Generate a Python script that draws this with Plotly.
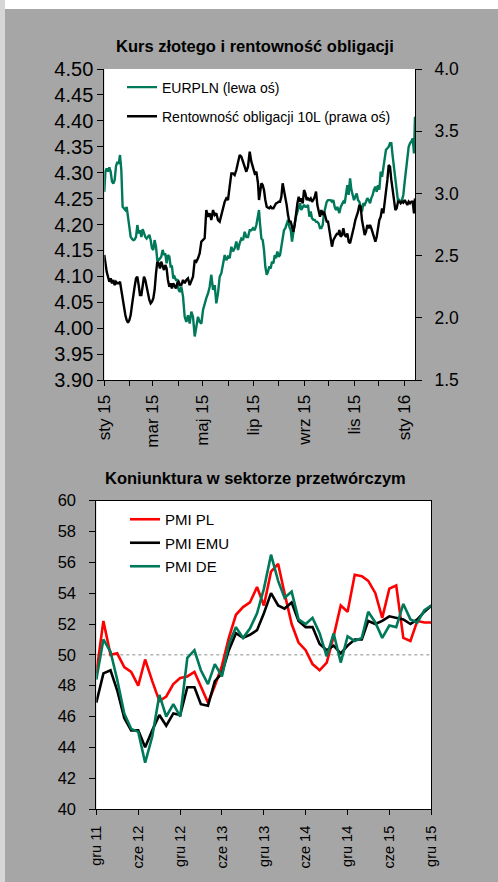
import pandas as pd
import plotly.graph_objects as go

W, H = 498, 882
FONT = "Liberation Sans, Arial, sans-serif"
GREEN = "#00785a"

# ---------------- Chart 1 data (days since 2015-01-01) ----------------
day_offsets = [
    0.0, 1.3, 2.9, 4.5, 6.1, 7.7, 9.4, 11.0, 12.6, 14.2, 15.9, 17.5, 19.1, 20.7, 22.3, 24.0,
    25.6, 27.2, 28.8, 30.5, 32.1, 33.7, 35.3, 36.9, 38.6, 40.2, 41.8, 43.4, 45.1, 46.7, 48.3,
    49.9, 51.5, 53.2, 54.8, 56.4, 58.0, 59.6, 61.2, 62.9, 64.5, 66.1, 67.7, 69.3, 71.0, 72.6,
    74.2, 75.8, 77.4, 79.1, 80.7, 82.3, 83.9, 85.5, 87.2, 88.8, 90.4, 92.0, 93.7,
    95.8, 97.8, 99.8, 101.8, 103.9, 105.9, 107.9, 110.0, 112.0, 114.0, 116.0, 118.1, 120.1,
    122.1, 124.1, 126.2, 128.2, 130.2, 132.3, 134.3, 136.3, 138.3, 140.4, 142.4, 144.4, 146.5,
    148.5, 150.5, 152.5, 154.6, 156.6, 158.6, 160.6, 162.7, 164.7, 166.7, 168.8, 170.8, 172.8,
    174.8, 176.9, 178.9, 180.9, 183.0, 185.0, 187.0, 188.2,
    189.4, 191.1, 192.7, 194.3, 195.9, 197.6, 199.2, 200.8, 202.4, 204.0, 205.7, 207.3, 208.9,
    210.5, 212.2, 213.8, 215.4, 217.0, 218.6, 220.3, 221.9, 223.5, 225.1, 226.8, 228.4, 230.0,
    231.6, 233.2, 234.9, 236.5, 238.1, 239.7, 241.4, 243.0, 244.6, 246.2, 247.8, 249.5, 251.1,
    252.7, 254.3, 256.0, 257.6, 259.2, 260.8, 262.4, 264.1, 265.7, 267.3, 268.9, 270.6, 272.2,
    273.8, 275.4, 277.0, 278.7, 280.3, 281.9, 283.5,
    284.3, 286.0, 287.6, 289.2, 290.8, 292.5, 294.1, 295.7, 297.3, 299.0, 300.6, 302.2, 303.8,
    305.4, 307.1, 308.7, 310.3, 311.9, 313.5, 315.2, 316.8, 318.4, 320.0, 321.7, 323.3, 324.9,
    326.5, 328.1, 329.8, 331.4, 333.0, 334.6, 336.3, 337.9, 339.5, 341.1, 342.7, 344.4, 346.0,
    347.6, 349.2, 350.9, 352.5, 354.1, 355.7, 357.4, 359.0, 360.6, 362.2, 363.8, 365.5, 367.1,
    368.7, 370.3, 372.0, 373.6, 375.2, 376.8, 378.0,
]

eurpln = [
    4.263, 4.302, 4.308, 4.302, 4.310, 4.302, 4.283, 4.279, 4.286, 4.312, 4.321, 4.317, 4.334, 4.305, 4.234, 4.231,
    4.228, 4.234, 4.215, 4.193, 4.176, 4.172, 4.170, 4.171, 4.176, 4.199, 4.183, 4.189, 4.176, 4.191, 4.183,
    4.176, 4.173, 4.176, 4.180, 4.170, 4.154, 4.151, 4.170, 4.157, 4.131, 4.131, 4.135, 4.138, 4.151, 4.141,
    4.144, 4.125, 4.141, 4.138, 4.119, 4.119, 4.096, 4.099, 4.093, 4.093, 4.074, 4.070, 4.080,
    4.061, 4.022, 4.012, 4.025, 4.009, 4.032, 4.022, 3.984, 4.003, 4.022, 4.012, 4.009, 4.035,
    4.048, 4.058, 4.067, 4.080, 4.103, 4.074, 4.083, 4.048, 4.067, 4.099, 4.106, 4.125, 4.141,
    4.131, 4.138, 4.135, 4.157, 4.148, 4.154, 4.167, 4.151, 4.164, 4.173, 4.170, 4.186, 4.176,
    4.176, 4.189, 4.189, 4.193, 4.189, 4.199, 4.222, 4.228,
    4.202, 4.173, 4.170, 4.151, 4.119, 4.103, 4.109, 4.119, 4.115, 4.128, 4.125, 4.141, 4.135,
    4.148, 4.138, 4.141, 4.157, 4.170, 4.189, 4.193, 4.202, 4.209, 4.196, 4.189, 4.167, 4.189,
    4.202, 4.215, 4.225, 4.231, 4.241, 4.228, 4.234, 4.238, 4.234, 4.234, 4.238, 4.215, 4.225,
    4.212, 4.209, 4.209, 4.205, 4.205, 4.202, 4.193, 4.193, 4.199, 4.222, 4.234, 4.244, 4.247,
    4.247, 4.247, 4.244, 4.247, 4.234, 4.228, 4.234,
    4.228, 4.222, 4.234, 4.238, 4.244, 4.241, 4.257, 4.276, 4.257, 4.289, 4.267, 4.254, 4.247,
    4.254, 4.260, 4.247, 4.244, 4.234, 4.225, 4.241, 4.238, 4.244, 4.251, 4.247, 4.241, 4.251,
    4.257, 4.267, 4.273, 4.263, 4.276, 4.267, 4.302, 4.292, 4.308, 4.331, 4.344, 4.347, 4.350,
    4.357, 4.357, 4.331, 4.308, 4.289, 4.267, 4.244, 4.247, 4.244, 4.247, 4.257, 4.283, 4.308,
    4.331, 4.350, 4.357, 4.360, 4.366, 4.337, 4.408,
]

yield10 = [
    2.505, 2.424, 2.371, 2.330, 2.290, 2.317, 2.277, 2.304, 2.263, 2.290, 2.277, 2.277, 2.290, 2.223, 2.156, 2.076,
    2.022, 1.982, 1.961, 1.982, 2.022, 2.103, 2.196, 2.250, 2.317, 2.330, 2.263, 2.183, 2.183, 2.277, 2.330,
    2.304, 2.250, 2.196, 2.143, 2.116, 2.129, 2.156, 2.223, 2.357, 2.451, 2.438, 2.397, 2.451, 2.424, 2.384,
    2.424, 2.397, 2.304, 2.250, 2.277, 2.237, 2.277, 2.250, 2.237, 2.277, 2.290, 2.263, 2.263,
    2.304, 2.277, 2.304, 2.317, 2.263, 2.290, 2.330, 2.464, 2.451, 2.478, 2.518, 2.612, 2.625,
    2.639, 2.866, 2.813, 2.840, 2.786, 2.866, 2.826, 2.840, 2.786, 2.773, 2.826, 2.880, 2.933,
    2.960, 2.947, 3.054, 3.161, 3.161, 3.148, 3.188, 3.241, 3.308, 3.295, 3.255, 3.228, 3.174,
    3.215, 3.335, 3.255, 3.215, 3.161, 3.174, 3.081, 2.947,
    3.014, 3.081, 3.067, 3.027, 2.947, 2.893, 2.885, 2.880, 2.893, 2.880, 2.880, 2.906, 2.920,
    2.925, 2.933, 2.933, 2.973, 3.081, 3.027, 2.987, 2.906, 2.826, 2.773, 2.773, 2.732, 2.692,
    2.746, 2.840, 2.920, 2.973, 2.933, 2.960, 2.920, 3.027, 3.000, 2.947, 2.960, 2.947, 2.960,
    2.933, 2.947, 2.973, 3.014, 2.906, 2.853, 2.813, 2.866, 2.826, 2.853, 2.813, 2.773, 2.773,
    2.692, 2.625, 2.572, 2.625, 2.652, 2.665, 2.679,
    2.666, 2.706, 2.652, 2.666, 2.719, 2.666, 2.652, 2.679, 2.612, 2.599, 2.639, 2.679, 2.733,
    2.786, 2.813, 2.853, 2.907, 2.893, 2.786, 2.719, 2.666, 2.692, 2.746, 2.719, 2.746, 2.719,
    2.679, 2.639, 2.612, 2.652, 2.719, 2.786, 2.813, 2.880, 2.840, 2.920, 3.000, 3.108, 3.228,
    3.215, 3.108, 3.027, 2.934, 2.866, 2.880, 2.934, 2.934, 2.920, 2.934, 2.926, 2.947, 2.920,
    2.907, 2.934, 2.920, 2.934, 2.934, 2.840, 2.960,
]

x1_tickvals = ["2015-01-01", "2015-03-01", "2015-05-01", "2015-07-01", "2015-09-01", "2015-11-01", "2016-01-01"]
x1_ticktext = ["sty 15", "mar 15", "maj 15", "lip 15", "wrz 15", "lis 15", "sty 16"]
x1_range = ["2015-01-01", "2016-01-14"]

# ---------------- Chart 2 data (monthly, gru 11 .. gru 15) ----------------
pmi_months = pd.date_range("2011-12-01", periods=49, freq="MS")
pmi_pl = [48.8, 52.2, 50.0, 50.1, 49.2, 48.9, 48.0, 49.7, 48.3, 47.0, 47.3, 48.1, 48.5, 48.6, 48.9,
          48.0, 46.9, 48.0, 49.3, 51.1, 52.6, 53.1, 53.4, 54.4, 53.2, 55.4, 55.9, 54.0, 52.0, 50.8,
          50.3, 49.4, 49.0, 49.5, 51.2, 53.2, 52.8, 55.2, 55.1, 54.8, 54.0, 52.4, 54.3, 54.5, 51.1,
          50.9, 52.2, 52.1, 52.1]
pmi_emu = [46.9, 48.8, 49.0, 47.7, 45.9, 45.1, 45.1, 44.0, 45.1, 46.1, 45.4, 46.2, 46.1, 47.9, 47.9,
           46.8, 46.7, 48.3, 48.8, 50.3, 51.4, 51.1, 51.3, 51.6, 52.7, 54.0, 53.2, 53.0, 53.4, 52.2,
           51.8, 51.8, 50.7, 50.3, 50.6, 50.1, 50.6, 51.0, 51.0, 52.2, 52.0, 52.2, 52.5, 52.4, 52.3,
           52.0, 52.3, 52.8, 53.2]
pmi_de = [48.4, 51.0, 50.2, 48.4, 46.2, 45.2, 45.0, 43.0, 44.7, 47.4, 46.0, 46.8, 46.0, 49.8, 50.3,
          49.0, 48.1, 49.4, 48.6, 50.7, 51.8, 51.1, 51.7, 52.7, 54.3, 56.5, 54.8, 53.7, 54.1, 52.3,
          52.0, 52.4, 51.4, 49.9, 51.4, 49.5, 51.2, 50.9, 51.1, 52.8, 52.1, 51.1, 51.9, 51.8, 53.3,
          52.3, 52.1, 52.9, 53.2]
x2_tickvals = ["2011-12-01", "2012-06-01", "2012-12-01", "2013-06-01", "2013-12-01",
               "2014-06-01", "2014-12-01", "2015-06-01", "2015-12-01"]
x2_ticktext = ["gru 11", "cze 12", "gru 12", "cze 13", "gru 13", "cze 14", "gru 14", "cze 15", "gru 15"]

dates1 = pd.Timestamp("2015-01-01") + pd.to_timedelta(day_offsets, unit="D")
month_starts = pd.date_range("2015-01-01", "2016-01-01", freq="MS").strftime("%Y-%m-%d").tolist()


def px_x(p):
    return p / W


def px_y(p):
    return 1 - p / H


fig = go.Figure()
fig.add_trace(go.Scatter(x=dates1, y=eurpln, name="EURPLN (lewa oś)", mode="lines",
                         line=dict(color=GREEN, width=2.4), xaxis="x", yaxis="y",
                         legend="legend", legendgroup="g1"))
fig.add_trace(go.Scatter(x=dates1, y=yield10, name="Rentowność obligacji 10L (prawa oś)", mode="lines",
                         line=dict(color="black", width=2.4), xaxis="x", yaxis="y2",
                         legend="legend", legendgroup="g2"))
fig.add_trace(go.Scatter(x=pmi_months, y=pmi_pl, name="PMI PL", mode="lines",
                         line=dict(color="#ff0000", width=2.6), xaxis="x2", yaxis="y3",
                         legend="legend2", legendgroup="p1"))
fig.add_trace(go.Scatter(x=pmi_months, y=pmi_emu, name="PMI EMU", mode="lines",
                         line=dict(color="black", width=2.6), xaxis="x2", yaxis="y3",
                         legend="legend2", legendgroup="p2"))
fig.add_trace(go.Scatter(x=pmi_months, y=pmi_de, name="PMI DE", mode="lines",
                         line=dict(color=GREEN, width=2.6), xaxis="x2", yaxis="y3",
                         legend="legend2", legendgroup="p3"))

axis_common = dict(showgrid=False, zeroline=False, showline=True, linecolor="black", linewidth=1,
                   ticks="outside", tickcolor="black", tickwidth=1)

fig.update_layout(
    width=W, height=H,
    margin=dict(l=0, r=0, t=0, b=0, autoexpand=False),
    paper_bgcolor="#a6a6a6",
    plot_bgcolor="white",
    font=dict(family=FONT, color="black"),
    xaxis=dict(domain=[px_x(104.3), px_x(415)], anchor="y", type="date", range=x1_range,
               tickmode="array", tickvals=x1_tickvals, ticktext=x1_ticktext, tickangle=-90,
               ticklen=5, tickfont=dict(size=17), ticklabelstandoff=2,
               minor=dict(tickmode="array", tickvals=month_starts, ticks="outside", ticklen=5,
                          tickcolor="black", showgrid=False),
               **axis_common),
    yaxis=dict(domain=[px_y(380), px_y(69)], anchor="x", range=[3.9, 4.5], dtick=0.05,
               tick0=3.9, tickformat=".2f", ticklen=6, tickfont=dict(size=20), **axis_common),
    yaxis2=dict(overlaying="y", side="right", anchor="x", range=[1.5, 4.0], dtick=0.5, tick0=1.5,
                tickformat=".1f", ticklen=6, tickfont=dict(size=17.5), ticklabelstandoff=9,
                **axis_common),
    xaxis2=dict(domain=[px_x(96.3), px_x(431.3)], anchor="y3", type="date",
                range=["2011-12-01", "2015-12-01"], tickmode="array", tickvals=x2_tickvals,
                ticktext=x2_ticktext, tickangle=-90, ticklen=5, tickfont=dict(size=14.5),
                ticklabelstandoff=5, mirror=True, **axis_common),
    yaxis3=dict(domain=[px_y(809), px_y(500.7)], anchor="x2", range=[40, 60], dtick=2,
                tickmode="linear", tick0=40, ticklen=6, tickfont=dict(size=16.5),
                ticklabelstandoff=10, mirror=True, **axis_common),
    legend=dict(x=px_x(122), y=px_y(71.5), xanchor="left", yanchor="top",
                bgcolor="rgba(0,0,0,0)", font=dict(size=14), tracegroupgap=8,
                itemwidth=30),
    legend2=dict(x=px_x(125), y=px_y(503), xanchor="left", yanchor="top",
                 bgcolor="rgba(0,0,0,0)", font=dict(size=15), tracegroupgap=1,
                 itemwidth=30),
    showlegend=True,
)

fig.add_shape(type="rect", xref="paper", yref="paper", x0=px_x(5), x1=1, y0=px_y(9), y1=1,
              fillcolor="white", line=dict(width=0), layer="below")
fig.add_shape(type="rect", xref="paper", yref="paper", x0=0, x1=px_x(5), y0=0, y1=1,
              fillcolor="#d6d6d6", line=dict(width=0), layer="below")
fig.add_shape(type="line", xref="x2 domain", yref="y3", x0=0, x1=1, y0=50, y1=50,
              line=dict(color="#8c8c8c", width=1, dash="dot"), layer="below")

fig.add_annotation(text="<b>Kurs złotego i rentowność obligacji</b>", xref="paper", yref="paper",
                   x=px_x(255), y=px_y(46), xanchor="center", yanchor="middle", showarrow=False,
                   font=dict(size=16.5, color="black"))
fig.add_annotation(text="<b>Koniunktura w sektorze przetwórczym</b>", xref="paper", yref="paper",
                   x=px_x(255), y=px_y(478), xanchor="center", yanchor="middle", showarrow=False,
                   font=dict(size=16.5, color="black"))

fig.write_html("out.html", config={"displayModeBar": False},
               post_script="document.body.style.margin='0px';")
